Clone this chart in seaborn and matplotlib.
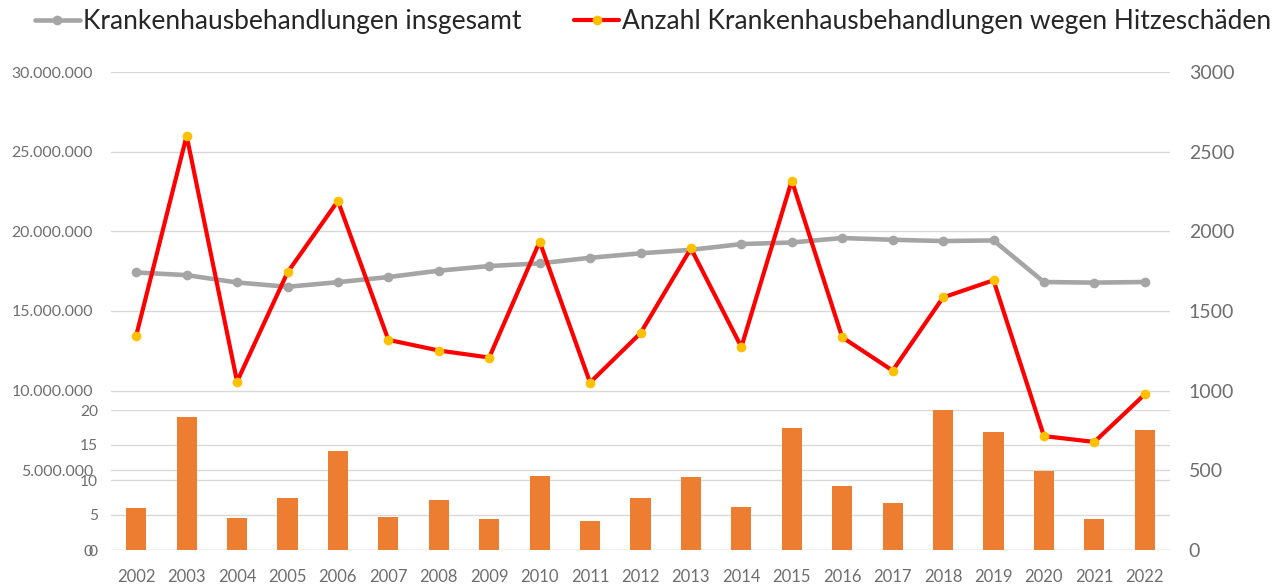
import numpy as np
import pandas as pd
import matplotlib
matplotlib.use("Agg")
import matplotlib.pyplot as plt
from matplotlib.ticker import FuncFormatter, MultipleLocator
import seaborn as sns

# ---- data ----
years = ["2002", "2003", "2004", "2005", "2006", "2007", "2008", "2009", "2010", "2011",
         "2012", "2013", "2014", "2015", "2016", "2017", "2018", "2019", "2020", "2021", "2022"]
total_treatments = [17420000, 17250000, 16790000, 16520000, 16810000, 17130000, 17530000,
                    17820000, 17990000, 18340000, 18620000, 18840000, 19200000, 19300000,
                    19580000, 19470000, 19390000, 19430000, 16820000, 16780000, 16820000]
heat_treatments = [1346, 2600, 1057, 1742, 2191, 1319, 1252, 1208, 1935, 1051, 1361,
                   1893, 1274, 2319, 1335, 1126, 1585, 1693, 715, 678, 977]
heat_bars = [6.05, 19.0, 4.63, 7.5, 14.2, 4.78, 7.1, 4.5, 10.6, 4.2, 7.5,
             10.4, 6.1, 17.5, 9.1, 6.65, 20.3, 16.9, 11.3, 4.5, 17.2]
label_total = "Krankenhausbehandlungen insgesamt"
label_heat = "Anzahl Krankenhausbehandlungen wegen Hitzeschäden"

sns.set_style("white")
plt.rcParams["font.family"] = ["Lato", "DejaVu Sans"]

df = pd.DataFrame({"year": years, "pos": np.arange(len(years)),
                   "total": total_treatments, "heat": heat_treatments, "bars": heat_bars})

W, H = 1285, 584
fig = plt.figure(figsize=(W / 100, H / 100), dpi=100)
left, right = 111 / W, 1170 / W
bottom = 34 / H
ax_main = fig.add_axes([left, bottom, right - left, (550 - 72) / H])
ax_bar = fig.add_axes([left, bottom, right - left, 140 / H])
ax_red = ax_main.twinx()

grid_col = "#d9d9d9"
tick_col = "#6e6e6e"

ax_main.set_zorder(1)
ax_bar.set_zorder(2)
ax_red.set_zorder(3)
ax_bar.patch.set_visible(False)
ax_red.patch.set_visible(False)

# gray line - total treatments
sns.lineplot(data=df, x="pos", y="total", ax=ax_main, color="#a5a5a5", lw=3.3,
             marker="o", markersize=7, markeredgewidth=0, legend=False, zorder=5)
# orange bars
sns.barplot(data=df, x="year", y="bars", ax=ax_bar, color="#ed7d31", saturation=1,
            width=0.4, linewidth=0, zorder=3)
# red line - heat treatments
sns.lineplot(data=df, x="pos", y="heat", ax=ax_red, color="#ff0000", lw=3,
             marker="o", markersize=7, markerfacecolor="#ffc000",
             markeredgecolor="#ffc000", markeredgewidth=0, legend=False, zorder=5)

for ax in (ax_main, ax_bar, ax_red):
    ax.set_xlim(-0.5, len(years) - 0.5)
    for s in ax.spines.values():
        s.set_visible(False)
    ax.set_xlabel("")
    ax.set_ylabel("")
    ax.tick_params(length=0, colors=tick_col)

ax_main.set_ylim(0, 30000000)
ax_main.yaxis.set_major_locator(MultipleLocator(5000000))
ax_main.yaxis.set_major_formatter(FuncFormatter(lambda v, p: f"{int(v):,}".replace(",", ".")))
ax_main.yaxis.grid(True, color=grid_col, lw=1)
ax_main.set_axisbelow(True)
ax_main.tick_params(axis="y", pad=13, labelsize=11.4)
ax_main.set_xticks(np.arange(len(years)))
ax_main.set_xticklabels(years)
ax_main.tick_params(axis="x", pad=14, labelsize=12)

ax_bar.set_ylim(0, 20)
ax_bar.yaxis.set_major_locator(MultipleLocator(5))
ax_bar.yaxis.grid(True, color=grid_col, lw=1)
ax_bar.set_axisbelow(True)
ax_bar.tick_params(axis="y", pad=9.5, labelsize=11.2)
ax_bar.tick_params(axis="x", labelbottom=False)

ax_red.set_ylim(0, 3000)
ax_red.yaxis.set_major_locator(MultipleLocator(500))
ax_red.tick_params(axis="y", pad=13.5, labelsize=14)
ax_red.tick_params(axis="x", labelbottom=False)

handles = [ax_main.lines[0], ax_red.lines[0]]
fig.legend(handles, [label_total, label_heat], loc="center", ncol=2,
           bbox_to_anchor=(653 / W, 1 - 22 / H), frameon=False, fontsize=19,
           handlelength=1.7, handletextpad=0.12, columnspacing=2.0,
           labelcolor="#262626", borderaxespad=0, borderpad=0)

fig.savefig("out.png", dpi=100)
